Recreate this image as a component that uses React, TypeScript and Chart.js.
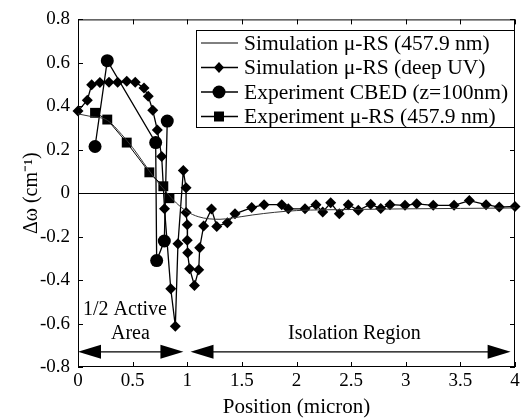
import React, { useEffect, useRef } from "react";
import { Chart, registerables } from "chart.js";
Chart.register(...registerables);

const FONT = "'Liberation Serif', 'Times New Roman', serif";

// Simulation μ-RS (457.9 nm)
const simVisX = [0, 0.1, 0.27, 0.4, 0.5, 0.6, 0.7, 0.8, 0.9, 1.0, 1.1, 1.2, 1.3, 1.4, 1.6, 1.8, 2.0, 2.5, 3.0, 3.5, 4.0];
const simVisY = [0.365, 0.355, 0.335, 0.27, 0.21, 0.14, 0.07, 0.01, -0.045, -0.085, -0.108, -0.118, -0.12, -0.115, -0.1, -0.088, -0.08, -0.075, -0.072, -0.07, -0.068];

// Simulation μ-RS (deep UV)
const simUvX = [0, 0.085, 0.125, 0.2, 0.284, 0.363, 0.446, 0.524, 0.604, 0.643, 0.684, 0.726, 0.766, 0.792, 0.849, 0.891, 0.915, 0.964, 0.989, 0.989, 1.0, 1.0, 1.004, 1.022, 1.066, 1.105, 1.114, 1.15, 1.222, 1.27, 1.367, 1.437, 1.59, 1.703, 1.865, 1.925, 2.078, 2.178, 2.24, 2.313, 2.392, 2.474, 2.566, 2.679, 2.771, 2.856, 2.993, 3.1, 3.252, 3.442, 3.582, 3.735, 3.856, 4.0];
const simUvY = [0.378, 0.428, 0.499, 0.51, 0.511, 0.511, 0.515, 0.511, 0.484, 0.446, 0.382, 0.291, 0.169, -0.072, -0.44, -0.612, -0.233, 0.104, 0.025, -0.089, -0.145, -0.216, -0.274, -0.348, -0.425, -0.352, -0.251, -0.151, -0.073, -0.153, -0.136, -0.095, -0.066, -0.053, -0.053, -0.072, -0.072, -0.053, -0.087, -0.044, -0.095, -0.053, -0.079, -0.051, -0.071, -0.053, -0.056, -0.049, -0.056, -0.056, -0.034, -0.053, -0.064, -0.061];

// Experiment CBED (z=100nm)
const cbedX = [0.156, 0.268, 0.711, 0.72, 0.79, 0.817];
const cbedY = [0.215, 0.61, 0.233, -0.31, -0.22, 0.332];

// Experiment μ-RS (457.9 nm)
const expX = [0.156, 0.268, 0.446, 0.653, 0.781, 0.837];
const expY = [0.37, 0.339, 0.233, 0.096, 0.032, -0.023];

const xTickValues = [0, 0.5, 1, 1.5, 2, 2.5, 3, 3.5, 4];
const xTickLabels = ["0", "0.5", "1", "1.5", "2", "2.5", "3", "3.5", "4"];
const yTickValues = [-0.8, -0.6, -0.4, -0.2, 0, 0.2, 0.4, 0.6, 0.8];
const yTickLabels = ["-0.8", "-0.6", "-0.4", "-0.2", "0", "0.2", "0.4", "0.6", "0.8"];

const legendLabels = [
  "Simulation \u03bc-RS (457.9 nm)",
  "Simulation \u03bc-RS (deep UV)",
  "Experiment CBED (z=100nm)",
  "Experiment \u03bc-RS (457.9 nm)",
];
const legendMarkers = ["none", "diamond", "circle", "square"];

const zip = (xs: number[], ys: number[]) => xs.map((x, i) => ({ x, y: ys[i] }));

function drawMarker(ctx: CanvasRenderingContext2D, kind: string, x: number, y: number) {
  ctx.beginPath();
  if (kind === "diamond") {
    ctx.moveTo(x, y - 5.5);
    ctx.lineTo(x + 5, y);
    ctx.lineTo(x, y + 5.5);
    ctx.lineTo(x - 5, y);
    ctx.closePath();
    ctx.fill();
  } else if (kind === "circle") {
    ctx.arc(x, y, 6.5, 0, Math.PI * 2);
    ctx.fill();
  } else if (kind === "square") {
    ctx.rect(x - 5, y - 5, 10, 10);
    ctx.fill();
  }
}

function arrowHead(ctx: CanvasRenderingContext2D, tipX: number, y: number, dir: number) {
  ctx.beginPath();
  ctx.moveTo(tipX, y);
  ctx.lineTo(tipX - dir * 23, y - 7);
  ctx.lineTo(tipX - dir * 23, y + 7);
  ctx.closePath();
  ctx.fill();
}

const overlay = {
  id: "overlay",
  beforeDatasetsDraw(chart: any) {
    const { ctx, chartArea, scales } = chart;
    const { left, right, top, bottom } = chartArea;
    const xs = scales.x;
    const ys = scales.y;
    ctx.save();
    ctx.strokeStyle = "#000";
    ctx.lineWidth = 1;
    ctx.strokeRect(left + 0.5, top + 0.5, right - left - 1, bottom - top - 1);
    const y0 = Math.round(ys.getPixelForValue(0)) + 0.5;
    ctx.beginPath();
    ctx.moveTo(left, y0);
    ctx.lineTo(right, y0);
    ctx.stroke();
    ctx.beginPath();
    xTickValues.forEach((v) => {
      const px = Math.round(xs.getPixelForValue(v)) + 0.5;
      ctx.moveTo(px, bottom);
      ctx.lineTo(px, bottom - 5);
      ctx.moveTo(px, top);
      ctx.lineTo(px, top + 5);
    });
    yTickValues.forEach((v) => {
      const py = Math.round(ys.getPixelForValue(v)) + 0.5;
      ctx.moveTo(left, py);
      ctx.lineTo(left + 5, py);
      ctx.moveTo(right, py);
      ctx.lineTo(right - 5, py);
    });
    ctx.stroke();
    ctx.restore();
  },
  afterDatasetsDraw(chart: any) {
    const { ctx, scales } = chart;
    const xs = scales.x;
    const ys = scales.y;
    ctx.save();
    ctx.fillStyle = "#000";
    ctx.strokeStyle = "#000";
    ctx.lineWidth = 1.2;
    // arrows
    const ay = ys.getPixelForValue(-0.73);
    const a1 = xs.getPixelForValue(0);
    const a2 = xs.getPixelForValue(0.965);
    const b1 = xs.getPixelForValue(1.03);
    const b2 = xs.getPixelForValue(3.96);
    ctx.beginPath();
    ctx.moveTo(a1 + 10, ay);
    ctx.lineTo(a2 - 10, ay);
    ctx.moveTo(b1 + 10, ay);
    ctx.lineTo(b2 - 10, ay);
    ctx.stroke();
    arrowHead(ctx, a1, ay, -1);
    arrowHead(ctx, a2, ay, 1);
    arrowHead(ctx, b1, ay, -1);
    arrowHead(ctx, b2, ay, 1);
    // annotation texts
    ctx.font = `20px ${FONT}`;
    ctx.textAlign = "center";
    ctx.textBaseline = "middle";
    ctx.fillText("1/2 Active", xs.getPixelForValue(0.43), ys.getPixelForValue(-0.535));
    ctx.fillText("Area", xs.getPixelForValue(0.48), ys.getPixelForValue(-0.648));
    ctx.fillText("Isolation Region", xs.getPixelForValue(2.53), ys.getPixelForValue(-0.648));
    // legend
    const bx = 196, by = 30, bw = 318, bh = 97;
    ctx.fillStyle = "#fff";
    ctx.fillRect(bx, by, bw, bh);
    ctx.lineWidth = 1;
    ctx.strokeRect(bx + 0.5, by + 0.5, bw, bh);
    ctx.fillStyle = "#000";
    ctx.textAlign = "left";
    ctx.font = `21.5px ${FONT}`;
    legendLabels.forEach((label, i) => {
      const ry = 43 + i * 24.5;
      ctx.beginPath();
      ctx.lineWidth = i === 0 ? 1 : 1.3;
      ctx.moveTo(201, ry);
      ctx.lineTo(238, ry);
      ctx.stroke();
      drawMarker(ctx, legendMarkers[i], 219, ry);
      ctx.fillText(label, 244, ry + 1);
    });
    ctx.restore();
  },
};

export default function App() {
  const ref = useRef<HTMLCanvasElement>(null);
  useEffect(() => {
    if (!ref.current) return;
    const chart = new Chart(ref.current, {
      type: "line",
      data: {
        datasets: [
          {
            label: legendLabels[0],
            data: zip(simVisX, simVisY),
            borderColor: "#333",
            borderWidth: 1,
            pointRadius: 0,
            cubicInterpolationMode: "monotone",
            clip: false,
          },
          {
            label: legendLabels[2],
            data: zip(cbedX, cbedY),
            borderColor: "#000",
            backgroundColor: "#000",
            borderWidth: 1.3,
            pointStyle: "circle",
            pointRadius: 6.5,
            pointBorderWidth: 0,
            clip: false,
          },
          {
            label: legendLabels[3],
            data: zip(expX, expY),
            borderColor: "#000",
            backgroundColor: "#000",
            borderWidth: 1,
            pointStyle: "rect",
            pointRadius: 7,
            pointBorderWidth: 0,
            clip: false,
          },
          {
            label: legendLabels[1],
            data: zip(simUvX, simUvY),
            borderColor: "#000",
            backgroundColor: "#000",
            borderWidth: 1.3,
            pointStyle: "rectRot",
            pointRadius: 5.5,
            pointBorderWidth: 0,
            clip: false,
          },
        ],
      },
      options: {
        responsive: false,
        animation: false,
        devicePixelRatio: 1,
        layout: { padding: { top: 16, right: 14, left: 0, bottom: 0 } },
        plugins: { legend: { display: false }, tooltip: { enabled: false } },
        scales: {
          x: {
            type: "linear",
            min: 0,
            max: 4,
            afterFit: (s: any) => {
              s.height = 53;
            },
            afterBuildTicks: (s: any) => {
              s.ticks = xTickValues.map((v) => ({ value: v }));
            },
            grid: { display: false, drawTicks: false },
            border: { display: false },
            ticks: {
              padding: 3,
              color: "#000",
              font: { family: FONT, size: 19 },
              maxRotation: 0,
              callback: (v: any) => {
                const i = xTickValues.findIndex((t) => Math.abs(t - v) < 1e-6);
                return i >= 0 ? xTickLabels[i] : "";
              },
            },
            title: {
              display: true,
              text: "Position (micron)",
              color: "#000",
              font: { family: FONT, size: 21 },
              padding: { top: 0, bottom: 0 },
            },
          },
          y: {
            type: "linear",
            min: -0.8,
            max: 0.8,
            afterFit: (s: any) => {
              s.width = 78;
            },
            afterBuildTicks: (s: any) => {
              s.ticks = yTickValues.map((v) => ({ value: v }));
            },
            grid: { display: false, drawTicks: false },
            border: { display: false },
            ticks: {
              padding: 8,
              color: "#000",
              font: { family: FONT, size: 19 },
              callback: (v: any) => {
                const i = yTickValues.findIndex((t) => Math.abs(t - v) < 1e-6);
                return i >= 0 ? yTickLabels[i] : "";
              },
            },
            title: {
              display: true,
              text: "\u0394\u03c9 (cm\u207b\u00b9)",
              color: "#000",
              font: { family: FONT, size: 20 },
              padding: { top: 20, bottom: 0 },
            },
          },
        },
      },
      plugins: [overlay],
    } as any);
    return () => chart.destroy();
  }, []);
  return (
    <div style={{ position: "fixed", left: 0, top: 0, width: 529, height: 420, background: "#fff" }}>
      <canvas ref={ref} width={529} height={420} />
    </div>
  );
}
